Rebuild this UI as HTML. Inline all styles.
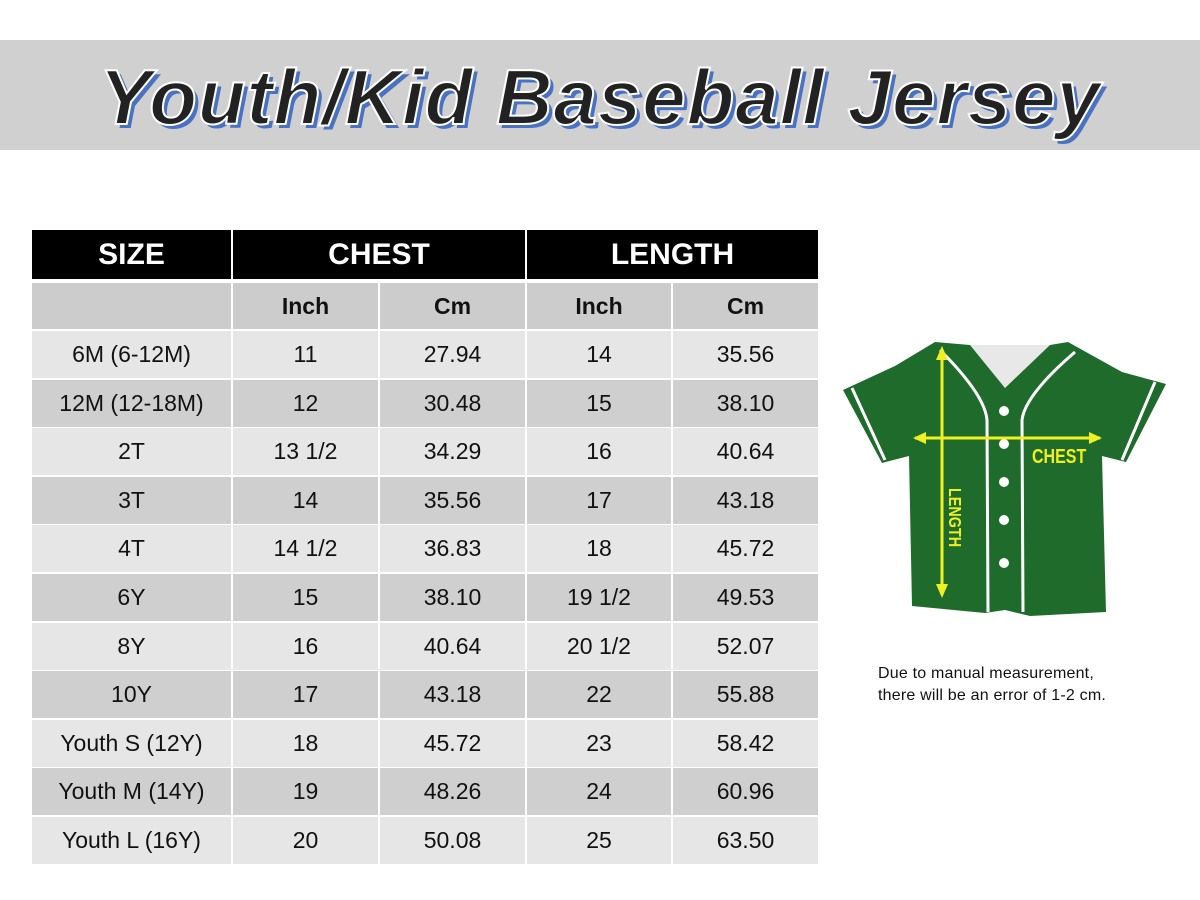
<!DOCTYPE html>
<html><head><meta charset="utf-8"><style>
body{margin:0;width:1200px;height:900px;background:#fff;position:relative;overflow:hidden;font-family:"Liberation Sans",sans-serif}
.band{position:absolute;left:0;top:40px;width:1200px;height:110px;background:#d0d0d0}
.title{position:absolute;left:0;top:52px;width:1200px;text-align:center;font-size:78px;font-weight:bold;font-style:italic;color:#222;-webkit-text-stroke:2px #fff;text-shadow:4px 4px 0 #4a72c4;letter-spacing:1px}
.c{position:absolute;display:flex;align-items:center;justify-content:center;font-size:23px;color:#111}
.h{background:#000;color:#fff;font-weight:bold;font-size:30px}
.note{position:absolute;left:878px;top:663px;font-size:16px;color:#111;line-height:22px;letter-spacing:0.2px}
</style></head><body>
<div class="band"></div>
<div class="title">Youth/Kid Baseball Jersey</div>
<div id="t"></div>
<svg style="position:absolute;left:0;top:0" width="1200" height="900">
<polygon points="970,345 1005,388 1050,345" fill="#e8e8e8"/>
<polygon points="935,342 970,345 1005,388 1050,345 1068,342 1122,372 1166,384 1126,462 1102,456 1106,612 1030,616 1005,610 985,613 912,606 909,456 882,463 843,390 895,366" fill="#1f6b2c"/>
<g stroke="#fff" stroke-width="3" fill="none">
<path d="M940,350 Q985,395 987,420 L988,612"/><path d="M1075,352 Q1025,395 1022,420 L1023,612"/>
<path d="M852,388 L885,460"/><path d="M1155,382 L1122,460"/>
</g>
<g fill="#fff"><circle cx="1004" cy="411" r="5"/><circle cx="1004" cy="444" r="5"/><circle cx="1004" cy="482" r="5"/><circle cx="1004" cy="520" r="5"/><circle cx="1004" cy="563" r="5"/></g>
<g stroke="#f0f020" stroke-width="3" fill="#f0f020">
<line x1="942" y1="350" x2="942" y2="595"/><line x1="915" y1="438" x2="1100" y2="438"/>
<polygon points="942,346 936,360 948,360" stroke="none"/><polygon points="942,598 936,584 948,584" stroke="none"/>
<polygon points="913,438 926,432 926,444" stroke="none"/><polygon points="1102,438 1089,432 1089,444" stroke="none"/>
</g>
<text x="1032" y="463" font-family="Liberation Sans" font-weight="bold" font-size="20" fill="#f0f020" transform="scale(0.8,1)" style="transform-origin:1032px 463px">CHEST</text>
<text x="0" y="0" font-family="Liberation Sans" font-weight="bold" font-size="18" fill="#f0f020" transform="translate(949,488) rotate(90) scale(0.8,1)">LENGTH</text>
</svg>
<div class="note">Due to manual measurement,<br>there will be an error of 1-2 cm.</div>
<script>
var cols=[[32,199],[233,145],[380,145],[527,144],[673,145]];
var h='';
h+='<div class="c h" style="left:32px;top:230px;width:199px;height:49px">SIZE</div>';
h+='<div class="c h" style="left:233px;top:230px;width:292px;height:49px">CHEST</div>';
h+='<div class="c h" style="left:527px;top:230px;width:291px;height:49px">LENGTH</div>';
var sub=['','Inch','Cm','Inch','Cm'];
for(var j=0;j<5;j++)h+='<div class="c" style="left:'+cols[j][0]+'px;top:283px;width:'+cols[j][1]+'px;height:46px;background:#cccccc;font-weight:bold">'+sub[j]+'</div>';
var d=[["6M (6-12M)","11","27.94","14","35.56"],["12M (12-18M)","12","30.48","15","38.10"],["2T","13 1/2","34.29","16","40.64"],["3T","14","35.56","17","43.18"],["4T","14 1/2","36.83","18","45.72"],["6Y","15","38.10","19 1/2","49.53"],["8Y","16","40.64","20 1/2","52.07"],["10Y","17","43.18","22","55.88"],["Youth S (12Y)","18","45.72","23","58.42"],["Youth M (14Y)","19","48.26","24","60.96"],["Youth L (16Y)","20","50.08","25","63.50"]];
for(var i=0;i<11;i++){var y=Math.round(331+i*48.6);var bg=i%2?'#cfcfcf':'#e6e6e6';
for(var j=0;j<5;j++)h+='<div class="c" style="left:'+cols[j][0]+'px;top:'+y+'px;width:'+cols[j][1]+'px;height:47px;background:'+bg+'">'+d[i][j]+'</div>';}
document.getElementById('t').innerHTML=h;
</script>
</body></html>
